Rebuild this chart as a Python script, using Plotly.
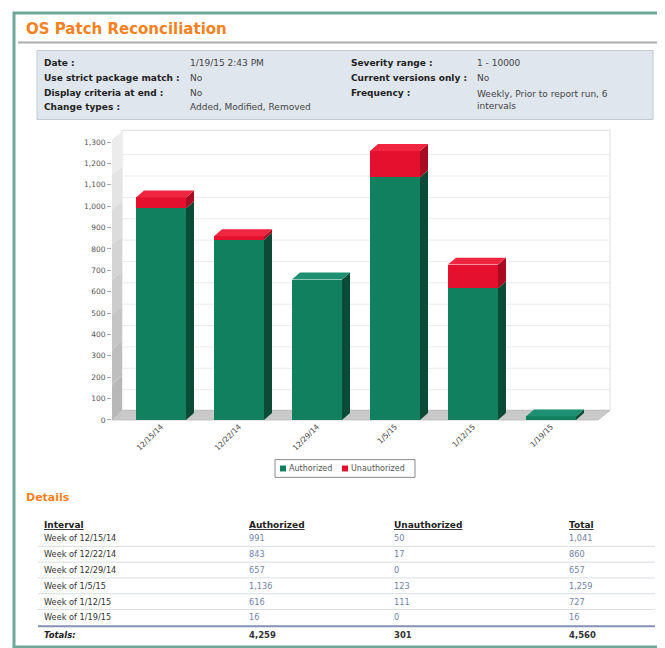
import plotly.graph_objects as go

# ---------------- data ----------------
categories = ["12/15/14", "12/22/14", "12/29/14", "1/5/15", "1/12/15", "1/19/15"]
intervals = ["Week of 12/15/14", "Week of 12/22/14", "Week of 12/29/14",
             "Week of 1/5/15", "Week of 1/12/15", "Week of 1/19/15"]
authorized = [991, 843, 657, 1136, 616, 16]
unauthorized = [50, 17, 0, 123, 111, 0]
y_ticks = list(range(0, 1301, 100))
series_names = ["Authorized", "Unauthorized"]

info_left = [("Date :", "1/19/15 2:43 PM"),
             ("Use strict package match :", "No"),
             ("Display criteria at end :", "No"),
             ("Change types :", "Added, Modified, Removed")]
info_right = [("Severity range :", "1 - 10000"),
              ("Current versions only :", "No"),
              ("Frequency :", "Weekly, Prior to report run, 6<br>intervals")]

# ---------------- styling ----------------
OFF = 8                 # page body margin of the html page
W, H = 665 - OFF, 648 - OFF
FONT = "DejaVu Sans"
GREEN, GREEN_SIDE, GREEN_TOP = "#11805f", "#0a4a37", "#1c9070"
RED, RED_SIDE, RED_TOP = "#e5102e", "#a90b22", "#f02540"
ORANGE = "#f5821f"
NUM_COLOR = "#7283a8"


def px(x):
    return (x - OFF) / W


def py(y):
    return 1 - (y - OFF) / H


# chart geometry (page pixels)
AX_L, AX_R = 112, 598
Y0_PX, Y1300_PX = 421.7, 140
cat_w = 78.0
bar_w_units = 50 / cat_w
x_range = [(AX_L - 161) / cat_w, (AX_R - 161) / cat_w]
px_per_unit = (Y0_PX - Y1300_PX) / 1300
bdx = 8 / cat_w          # bar depth in x units
bdy = 7 / px_per_unit    # bar depth in y units
wall_dy = 9 / px_per_unit

xs = list(range(len(categories)))

fig = go.Figure()
fig.add_trace(go.Bar(x=xs, y=authorized, name=series_names[0], width=bar_w_units,
                     marker=dict(color=GREEN, line=dict(width=0)), showlegend=False))
fig.add_trace(go.Bar(x=xs, y=unauthorized, name=series_names[1], width=bar_w_units,
                     marker=dict(color=RED, line=dict(width=0)), showlegend=False))

shapes = []
# outer frame
shapes.append(dict(type="rect", xref="paper", yref="paper", x0=px(14), x1=px(659),
                   y0=py(9), y1=py(652), line=dict(color="#6fa898", width=3), layer="below"))
# title underline
shapes.append(dict(type="line", xref="paper", yref="paper", x0=px(18), x1=px(657),
                   y0=py(39), y1=py(39), line=dict(color="#ababab", width=2), layer="below"))
# info box
shapes.append(dict(type="rect", xref="paper", yref="paper", x0=px(37), x1=px(653),
                   y0=py(47), y1=py(117), fillcolor="#dfe6ee",
                   line=dict(color="#c3c9d0", width=1), layer="below"))

# back wall
shapes.append(dict(type="rect", xref="paper", yref="paper", x0=px(122), x1=px(610),
                   y0=py(128), y1=py(412), fillcolor="#ffffff",
                   line=dict(color="#dedede", width=1), layer="below"))
# left wall (gradient via segments)
wall_cols = ["#ececec", "#e4e4e4", "#dcdcdc", "#d4d4d4", "#cccccc", "#c5c5c5", "#bebebe", "#b8b8b8"]
nseg = len(wall_cols)
for k in range(nseg):
    ft = 137 + (Y0_PX - 137) * k / nseg
    fb = 137 + (Y0_PX - 137) * (k + 1) / nseg
    bt = 130 + (412 - 130) * k / nseg
    bb = 130 + (412 - 130) * (k + 1) / nseg
    shapes.append(dict(type="path", xref="paper", yref="paper",
                       path=f"M {px(112)},{py(ft)} L {px(122)},{py(bt)} L {px(122)},{py(bb)} L {px(112)},{py(fb)} Z",
                       fillcolor=wall_cols[k], line=dict(width=0), layer="below"))
# floor
shapes.append(dict(type="path", xref="paper", yref="paper",
                   path=f"M {px(112)},{py(Y0_PX)} L {px(598)},{py(Y0_PX)} L {px(610)},{py(412)} L {px(122)},{py(412)} Z",
                   fillcolor="#c9c9c9", line=dict(color="#bdbdbd", width=1), layer="below"))
# gridlines on back wall
for v in y_ticks[1:]:
    shapes.append(dict(type="line", xref="paper", yref="y", x0=px(122), x1=px(610),
                       y0=v + wall_dy, y1=v + wall_dy, line=dict(color="#ebebeb", width=1),
                       layer="below"))

# 3D faces of bars (derived from data)
for i, (a, u) in enumerate(zip(authorized, unauthorized)):
    xl = i - bar_w_units / 2
    xr = i + bar_w_units / 2
    segs = [(0, a, GREEN_SIDE)]
    if u > 0:
        segs.append((a, a + u, RED_SIDE))
    for y0, y1, col in segs:
        shapes.append(dict(type="path", xref="x", yref="y",
                           path=f"M {xr},{y0} L {xr + bdx},{y0 + bdy} L {xr + bdx},{y1 + bdy} L {xr},{y1} Z",
                           fillcolor=col, line=dict(width=0), layer="above"))
    top = a + u
    tcol = RED_TOP if u > 0 else GREEN_TOP
    shapes.append(dict(type="path", xref="x", yref="y",
                       path=f"M {xl},{top} L {xl + bdx},{top + bdy} L {xr + bdx},{top + bdy} L {xr},{top} Z",
                       fillcolor=tcol, line=dict(width=0), layer="above"))

annotations = []


def txt(x, y, s, size=8.5, color="#333333", anchor="left"):
    annotations.append(dict(x=px(x), y=py(y), xref="paper", yref="paper", text=s,
                            showarrow=False, xanchor=anchor, yanchor="middle",
                            font=dict(family=FONT, size=size, color=color)))


# title
txt(24, 25, "<b>OS Patch Reconciliation</b>", size=15, color=ORANGE)

# info box
rows_y = [60, 75, 90, 104]
for (lab, val), y in zip(info_left, rows_y):
    txt(42, y, f"<b>{lab}</b>", size=9, color="#222222")
    txt(188, y, val, size=9, color="#444444")
for (lab, val), y in zip(info_right, rows_y):
    txt(349, y, f"<b>{lab}</b>", size=9, color="#222222")
    if "<br>" in val:
        annotations.append(dict(x=px(475), y=py(y - 6), xref="paper", yref="paper", text=val,
                                showarrow=False, xanchor="left", yanchor="top", align="left",
                                font=dict(family=FONT, size=9, color="#444444")))
    else:
        txt(475, y, val, size=9, color="#444444")

# legend (manual)
shapes.append(dict(type="rect", xref="paper", yref="paper", x0=px(275), x1=px(415),
                   y0=py(462), y1=py(480), fillcolor="white",
                   line=dict(color="#8a8a8a", width=1), layer="above"))
for (sx, col, name) in [(280, GREEN, series_names[0]), (342, RED, series_names[1])]:
    shapes.append(dict(type="rect", xref="paper", yref="paper", x0=px(sx), x1=px(sx + 6),
                       y0=py(468), y1=py(474), fillcolor=col, line=dict(width=0), layer="above"))
    txt(sx + 7, 471, name, size=8, color="#555555")

# Details table
txt(24, 500, "<b>Details</b>", size=11, color=ORANGE)
col_x = [42, 247, 392, 567]
headers = ["Interval", "Authorized", "Unauthorized", "Total"]
for x, h in zip(col_x, headers):
    txt(x, 528, f"<u><b>{h}</b></u>", size=9, color="#222222")
row_y = [542, 558, 574, 590, 606, 622]
for k, y in enumerate(row_y):
    tot = authorized[k] + unauthorized[k]
    txt(col_x[0], y, intervals[k], size=8.2, color="#333333")
    txt(col_x[1], y, f"{authorized[k]:,}", size=8.2, color=NUM_COLOR)
    txt(col_x[2], y, f"{unauthorized[k]:,}", size=8.2, color=NUM_COLOR)
    txt(col_x[3], y, f"{tot:,}", size=8.2, color=NUM_COLOR)
    if k < len(row_y) - 1:
        shapes.append(dict(type="line", xref="paper", yref="paper", x0=px(38), x1=px(655),
                           y0=py(y + 8), y1=py(y + 8), line=dict(color="#d9dee6", width=1),
                           layer="below"))
shapes.append(dict(type="line", xref="paper", yref="paper", x0=px(38), x1=px(655),
                   y0=py(631), y1=py(631), line=dict(color="#8592b3", width=2), layer="below"))
sum_a = sum(authorized)
sum_u = sum(unauthorized)
txt(col_x[0], 640, "<b><i>Totals:</i></b>", size=8.5, color="#222222")
txt(col_x[1], 640, f"<b>{sum_a:,}</b>", size=8.5, color="#333333")
txt(col_x[2], 640, f"<b>{sum_u:,}</b>", size=8.5, color="#333333")
txt(col_x[3], 640, f"<b>{sum_a + sum_u:,}</b>", size=8.5, color="#333333")

fig.update_layout(
    width=W, height=H,
    margin=dict(l=0, r=0, t=0, b=0),
    paper_bgcolor="white",
    plot_bgcolor="rgba(0,0,0,0)",
    barmode="stack",
    showlegend=False,
    font=dict(family=FONT),
    shapes=shapes,
    annotations=annotations,
    xaxis=dict(domain=[px(AX_L), px(AX_R)], range=x_range, tickvals=xs, ticktext=categories,
               tickangle=-45, tickfont=dict(family=FONT, size=7.5, color="#444444"),
               showgrid=False, zeroline=False, showline=False, ticks="", fixedrange=True),
    yaxis=dict(domain=[py(Y0_PX), py(Y1300_PX)], range=[0, 1300], tickvals=y_ticks,
               tickformat=",d", tickfont=dict(family=FONT, size=7.5, color="#555555"),
               showgrid=False, zeroline=False, showline=False, ticks="outside", ticklen=4,
               tickcolor="#aaaaaa", fixedrange=True),
)

fig.write_html("out.html")
